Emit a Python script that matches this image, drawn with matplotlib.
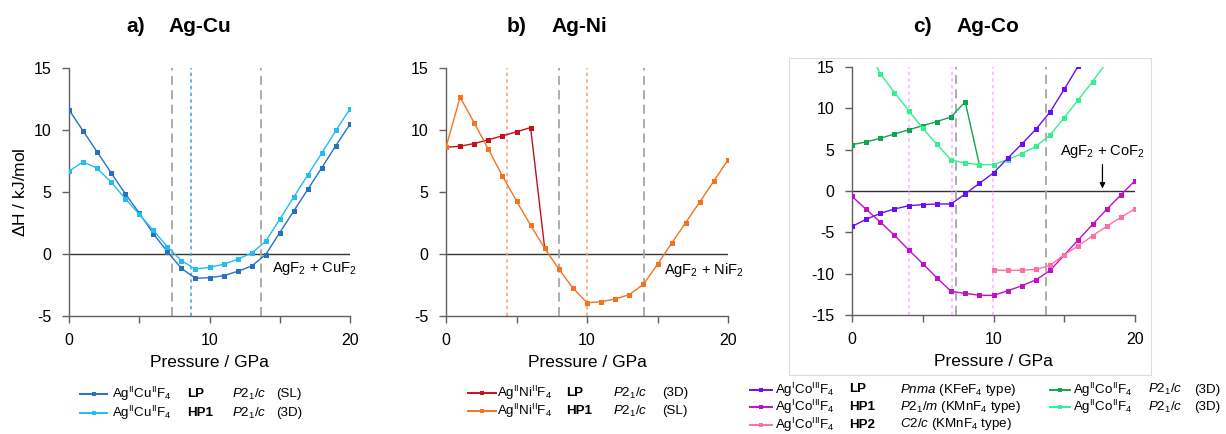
import matplotlib
matplotlib.use("Agg")
import matplotlib.pyplot as plt
from matplotlib.lines import Line2D
from matplotlib.patches import Rectangle

plt.rcParams['font.family'] = ['Liberation Sans', 'DejaVu Sans']
plt.rcParams['mathtext.fontset'] = 'custom'
plt.rcParams['mathtext.rm'] = 'Liberation Sans'
plt.rcParams['mathtext.it'] = 'Liberation Sans:italic'
plt.rcParams['mathtext.bf'] = 'Liberation Sans:bold'
plt.rcParams['axes.unicode_minus'] = False

# pressure grid (GPa)
p_all = list(range(21))

# a) Ag-Cu, enthalpy vs. AgF2 + CuF2 (kJ/mol)
cu_lp = [11.63, 9.93, 8.24, 6.54, 4.87, 3.31, 1.64, 0.19, -1.16, -1.96, -1.91,
         -1.75, -1.40, -0.97, -0.05, 1.72, 3.47, 5.22, 6.97, 8.75, 10.47]
cu_hp1 = [6.68, 7.43, 6.92, 5.79, 4.47, 3.20, 1.91, 0.59, -0.54, -1.21, -1.08,
          -0.83, -0.43, 0.08, 1.02, 2.80, 4.60, 6.38, 8.16, 9.96, 11.71]
cu_trans_dash = [7.32, 13.7]
cu_trans_dot = [8.65]

# b) Ag-Ni
ni_lp_p = list(range(8))
ni_lp = [8.61, 8.69, 8.91, 9.21, 9.53, 9.85, 10.20, 0.46]
ni_hp1 = [8.61, 12.65, 10.58, 8.45, 6.30, 4.28, 2.31, 0.46, -1.21, -2.75, -3.93,
          -3.85, -3.63, -3.28, -2.45, -0.83, 0.86, 2.53, 4.20, 5.89, 7.59]
ni_trans_dash = [8.0, 14.04]
ni_trans_dot = [4.33, 10.01]

# c) Ag-Co
co_lp_p = list(range(17))
co_lp = [-4.28, -3.43, -2.70, -2.18, -1.78, -1.65, -1.57, -1.57, -0.36, 0.93,
         2.18, 3.96, 5.69, 7.47, 9.57, 12.31, 15.14]
co_hp1 = [-0.65, -2.22, -3.75, -5.37, -7.11, -8.80, -10.50, -12.15, -12.39, -12.60,
          -12.64, -12.07, -11.47, -10.74, -9.61, -7.75, -5.90, -4.04, -2.22, -0.48, 1.25]
co_hp2_p = list(range(10, 21))
co_hp2 = [-9.55, -9.61, -9.57, -9.49, -9.00, -7.71, -6.62, -5.41, -4.28, -3.19, -2.14]
coii_lp_p = list(range(10))
coii_lp = [5.61, 5.93, 6.38, 6.90, 7.39, 7.91, 8.40, 8.96, 10.78, 3.19]
coii_hp_p = list(range(1, 19))
coii_hp = [17.6, 14.21, 11.91, 9.73, 7.59, 5.65, 3.75, 3.39, 3.19, 3.19, 3.79,
           4.52, 5.41, 6.78, 8.88, 11.06, 13.24, 15.56]
co_trans_dash = [7.34, 13.72]
co_trans_dot = [4.02, 7.06, 9.93]

C_CU_LP, C_CU_HP1 = '#2672C0', '#22BDF2'
C_NI_LP, C_NI_HP1 = '#C8101A', '#F5731E'
C_CO_LP, C_CO_HP1, C_CO_HP2 = '#6A10F5', '#C010C8', '#FF6FA6'
C_COII_LP, C_COII_HP = '#10A650', '#30F090'

W, H = 1226, 434
fig = plt.figure(figsize=(W / 100, H / 100), dpi=100)


def px_axes(left, right, top, bottom):
    return fig.add_axes([left / W, 1 - bottom / H, (right - left) / W, (bottom - top) / H])


def style_axes(ax, ylo, yhi, ystep):
    ax.set_xlim(0, 20)
    ax.set_ylim(ylo, yhi)
    ax.set_xticks([0, 5, 10, 15, 20])
    ax.set_xticklabels(['0', '', '10', '', '20'])
    ax.set_yticks(range(ylo, yhi + 1, ystep))
    for s in ['top', 'right']:
        ax.spines[s].set_visible(False)
    for s in ['left', 'bottom']:
        ax.spines[s].set_color('#606060')
        ax.spines[s].set_linewidth(1.0)
    ax.tick_params(direction='out', length=5, width=1.0, color='#606060',
                   labelsize=11.5)
    ax.tick_params(axis='x', pad=7)
    ax.tick_params(axis='y', pad=7.5)
    ax.axhline(0, color='#333333', lw=1.0, zorder=1)
    ax.set_xlabel('Pressure / GPa', fontsize=12.5, labelpad=5)


def series(ax, x, y, color):
    ax.plot(x, y, color=color, lw=1.0, marker='s', ms=3.6, mew=0, zorder=3)


def vlines(ax, dashed, dotted, dot_color):
    for x in dashed:
        ax.axvline(x, color='#A6A6A6', lw=1.3, ls=(0, (5, 3)), zorder=2)
    for x in dotted:
        ax.axvline(x, color=dot_color, lw=1.2, ls=(0, (2, 2)), zorder=2)


# panel a
ax1 = px_axes(69, 350, 68, 316)
style_axes(ax1, -5, 15, 5)
vlines(ax1, cu_trans_dash, cu_trans_dot, '#4BA6D8')
series(ax1, p_all, cu_lp, C_CU_LP)
series(ax1, p_all, cu_hp1, C_CU_HP1)
ax1.set_ylabel(r'$\Delta$H / kJ/mol', fontsize=12.5, labelpad=4)
ax1.text(14.45, -1.2, r'AgF$_2$ + CuF$_2$', fontsize=10.5, va='center', ha='left',
         clip_on=False)

# panel b
ax2 = px_axes(446, 728, 68, 316)
style_axes(ax2, -5, 15, 5)
vlines(ax2, ni_trans_dash, ni_trans_dot, '#F4A97C')
series(ax2, ni_lp_p, ni_lp, C_NI_LP)
series(ax2, p_all, ni_hp1, C_NI_HP1)
ax2.text(15.46, -1.3, r'AgF$_2$ + NiF$_2$', fontsize=10.5, va='center', ha='left',
         clip_on=False)

# panel c
ax3 = px_axes(852, 1135, 67, 315)
style_axes(ax3, -15, 15, 5)
vlines(ax3, co_trans_dash, co_trans_dot, '#FFB4FF')
series(ax3, coii_lp_p, coii_lp, C_COII_LP)
series(ax3, coii_hp_p, coii_hp, C_COII_HP)
series(ax3, co_lp_p, co_lp, C_CO_LP)
series(ax3, p_all, co_hp1, C_CO_HP1)
series(ax3, co_hp2_p, co_hp2, C_CO_HP2)
ax3.text(17.67, 4.8, r'AgF$_2$ + CoF$_2$', fontsize=10.5, va='center', ha='center')
ax3.annotate('', xy=(17.7, 0.3), xytext=(17.7, 3.2),
             arrowprops=dict(arrowstyle='-|>', color='black', lw=0.9,
                             mutation_scale=8, shrinkA=0, shrinkB=0))

# thin frame around panel c
fig.add_artist(Rectangle((789 / W, 1 - 375 / H), (1151 - 789) / W, (375 - 58) / H,
                         transform=fig.transFigure, fill=False,
                         edgecolor='#DDDDDD', lw=0.8))

# panel titles
for x_lab, x_name, lab, name in [(126, 168, 'a)', 'Ag-Cu'), (507, 551, 'b)', 'Ag-Ni'),
                                 (913, 956, 'c)', 'Ag-Co')]:
    fig.text(x_lab / W, 1 - 27 / H, lab, fontsize=15, fontweight='bold', va='center')
    fig.text(x_name / W, 1 - 27 / H, name, fontsize=15, fontweight='bold', va='center')


def legend_row(xh, hlen, y, color, pieces, size=9.6):
    yf = 1 - y / H
    fig.add_artist(Line2D([xh / W, (xh + hlen) / W], [yf, yf], color=color, lw=1.4,
                          transform=fig.transFigure))
    fig.add_artist(Line2D([(xh + hlen / 2) / W], [yf], color=color, marker='s', ms=3.5,
                          mew=0, transform=fig.transFigure))
    for x, s, w in pieces:
        fig.text(x / W, yf, s, fontsize=size, va='center', fontweight=w)


SG = r'$\mathit{P2_1/c}$'
cu_f = r'Ag$^{\mathrm{II}}$Cu$^{\mathrm{II}}$F$_4$'
legend_row(80, 27, 394, C_CU_LP, [(112, cu_f, 'normal'), (187, 'LP', 'bold'),
                                  (232, SG, 'normal'), (276, '(SL)', 'normal')])
legend_row(80, 27, 413, C_CU_HP1, [(112, cu_f, 'normal'), (187, 'HP1', 'bold'),
                                   (232, SG, 'normal'), (276, '(3D)', 'normal')])

ni_f = r'Ag$^{\mathrm{II}}$Ni$^{\mathrm{II}}$F$_4$'
legend_row(468, 28, 393, C_NI_LP, [(497, ni_f, 'normal'), (566, 'LP', 'bold'),
                                   (613, SG, 'normal'), (662, '(3D)', 'normal')])
legend_row(468, 28, 411, C_NI_HP1, [(497, ni_f, 'normal'), (566, 'HP1', 'bold'),
                                    (613, SG, 'normal'), (662, '(SL)', 'normal')])

co_f = r'Ag$^{\mathrm{I}}$Co$^{\mathrm{III}}$F$_4$'
coii_f = r'Ag$^{\mathrm{II}}$Co$^{\mathrm{II}}$F$_4$'
legend_row(750, 22, 389.5, C_CO_LP, [(775, co_f, 'normal'), (849, 'LP', 'bold'),
                                     (900, r'$\mathit{Pnma}$ (KFeF$_4$ type)', 'normal')])
legend_row(750, 22, 407, C_CO_HP1, [(775, co_f, 'normal'), (849, 'HP1', 'bold'),
                                    (900, r'$\mathit{P2_1/m}$ (KMnF$_4$ type)', 'normal')])
legend_row(750, 22, 424.5, C_CO_HP2, [(775, co_f, 'normal'), (849, 'HP2', 'bold'),
                                      (900, r'$\mathit{C2/c}$ (KMnF$_4$ type)', 'normal')])
legend_row(1050, 20, 389.5, C_COII_LP, [(1073, coii_f, 'normal'), (1148, SG, 'normal'),
                                        (1194, '(3D)', 'normal')])
legend_row(1050, 20, 407, C_COII_HP, [(1073, coii_f, 'normal'), (1148, SG, 'normal'),
                                      (1194, '(3D)', 'normal')])

fig.savefig('out.png', dpi=100)
